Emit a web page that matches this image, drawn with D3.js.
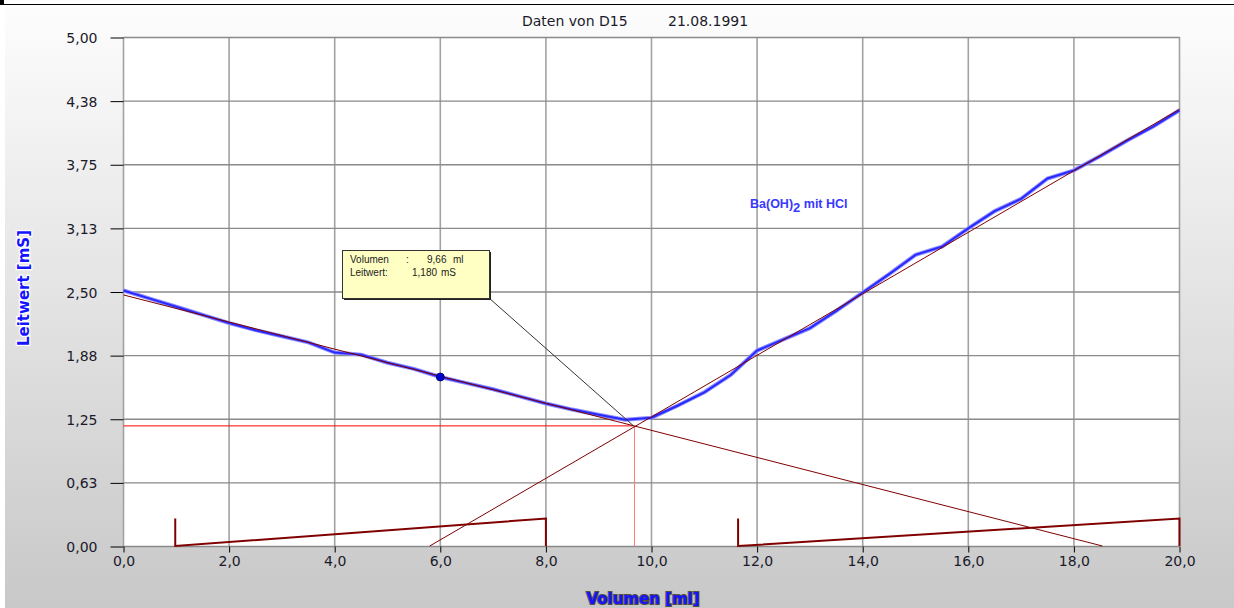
<!DOCTYPE html>
<html>
<head>
<meta charset="utf-8">
<script src="https://cdn.jsdelivr.net/npm/d3@7"></script>
<style>
  body { margin: 0; background: #fff; }
  svg { display: block; }
  .tick text { font-family: "DejaVu Sans", sans-serif; font-size: 14px; fill: #1a1a2a; }
</style>
</head>
<body>
<div id="chart"></div>
<script>
// ===== Data =====
let volumen = [0, 0.5, 1, 1.5, 2, 2.5, 3, 3.5, 4, 4.5, 5, 5.5, 6, 6.5, 7, 7.5, 8, 8.5, 9, 9.5,
               10, 10.5, 11, 11.5, 12, 12.5, 13, 13.5, 14, 14.5, 15, 15.5, 16, 16.5, 17, 17.5, 18, 18.5, 19, 19.5, 20];
let leitwert = [2.51, 2.43, 2.35, 2.27, 2.19, 2.12, 2.06, 2.00, 1.90, 1.88, 1.80, 1.74, 1.66, 1.60, 1.54, 1.47, 1.40, 1.34, 1.29, 1.24,
                1.26, 1.38, 1.51, 1.68, 1.92, 2.03, 2.14, 2.31, 2.49, 2.67, 2.86, 2.94, 3.12, 3.29, 3.41, 3.61, 3.69, 3.83, 3.98, 4.12, 4.28];

let fitDown = [[0, 2.466], [18.54, 0]];   // regression before equivalence point
let fitUp = [[5.80, 0], [20, 4.29]];      // regression after equivalence point
let equiv = {vol: 9.66, lw: 1.18};
let marker = {vol: 6.0, lw: 1.66};
let ranges = [[0.98, 8.0], [11.64, 20.0]];
let rangeHeight = 0.27;

let yTicks = [0, 0.625, 1.25, 1.875, 2.5, 3.125, 3.75, 4.375, 5];
let yTickLabels = ["0,00", "0,63", "1,25", "1,88", "2,50", "3,13", "3,75", "4,38", "5,00"];
let xTicks = [0, 2, 4, 6, 8, 10, 12, 14, 16, 18, 20];

let W = 1234, H = 608;

let svg = d3.select("#chart").append("svg")
    .attr("width", W)
    .attr("height", H);

// ===== Background =====
let grad = svg.append("defs").append("linearGradient")
    .attr("id", "bg")
    .attr("x1", 0).attr("y1", 0).attr("x2", 0).attr("y2", 1);
grad.append("stop").attr("offset", "0%").attr("stop-color", "#fdfdfd");
grad.append("stop").attr("offset", "100%").attr("stop-color", "#c8c8c8");

svg.append("rect")
    .attr("x", 5).attr("y", 5)
    .attr("width", W - 5).attr("height", H - 5)
    .attr("fill", "url(#bg)");

svg.append("line")
    .attr("x1", 0).attr("x2", W)
    .attr("y1", 4.5).attr("y2", 4.5)
    .attr("stroke", "#000").attr("stroke-width", 1.2);
svg.append("rect")
    .attr("x", 0).attr("y", 0).attr("width", 4).attr("height", 5)
    .attr("fill", "#000");

// ===== Scales =====
let x = d3.scaleLinear().domain([0, 20]).range([123.5, 1179.5]),
    y = d3.scaleLinear().domain([0, 5]).range([546, 37]);

svg.append("rect")
    .attr("x", x(0)).attr("y", y(5))
    .attr("width", x(20) - x(0)).attr("height", y(0) - y(5))
    .attr("fill", "#fff");

// ===== Grid =====
svg.append("g").selectAll("line")
    .data(xTicks)
  .enter().append("line")
    .attr("x1", d => x(d)).attr("x2", d => x(d))
    .attr("y1", y(0)).attr("y2", y(5))
    .attr("stroke", "#a2a2a2").attr("stroke-width", 1.6);

svg.append("g").selectAll("line")
    .data(yTicks)
  .enter().append("line")
    .attr("x1", x(0)).attr("x2", x(20))
    .attr("y1", d => y(d) + 0.5).attr("y2", d => y(d) + 0.5)
    .attr("stroke", "#8a8a8a").attr("stroke-width", 1.4);

// ===== Axes =====
let yAxis = d3.axisLeft(y)
    .tickValues(yTicks)
    .tickFormat((d, i) => yTickLabels[i])
    .tickSize(13)
    .tickPadding(13);

let xAxis = d3.axisBottom(x)
    .tickValues(xTicks)
    .tickFormat(d => d3.format(".1f")(d).replace(".", ","))
    .tickSize(6)
    .tickPadding(4);

let gy = svg.append("g")
    .attr("transform", "translate(" + x(0) + ",0.5)")
    .call(yAxis);
let gx = svg.append("g")
    .attr("transform", "translate(0," + (y(0) + 0.5) + ")")
    .call(xAxis);

[gx, gy].forEach(g => {
  g.select(".domain").remove();
  g.selectAll(".tick line").attr("stroke", "#000");
});
gy.selectAll(".tick text").attr("dy", "0.36em");

// ===== Titles =====
svg.append("text")
    .attr("x", 522).attr("y", 26)
    .attr("font-family", "DejaVu Sans, sans-serif")
    .attr("font-size", 14)
    .attr("fill", "#1a1a2a")
    .text("Daten von D15");
svg.append("text")
    .attr("x", 668).attr("y", 26)
    .attr("font-family", "DejaVu Sans, sans-serif")
    .attr("font-size", 14)
    .attr("fill", "#1a1a2a")
    .text("21.08.1991");

svg.append("text")
    .attr("transform", "translate(29,288) rotate(-90)")
    .attr("text-anchor", "middle")
    .attr("font-family", "DejaVu Sans, sans-serif")
    .attr("font-weight", "bold")
    .attr("font-size", 15)
    .attr("fill", "#1414ff")
    .attr("stroke", "#fff")
    .attr("stroke-width", 2.5)
    .attr("paint-order", "stroke")
    .text("Leitwert [mS]");

svg.append("text")
    .attr("x", 643).attr("y", 604)
    .attr("text-anchor", "middle")
    .attr("font-family", "DejaVu Sans, sans-serif")
    .attr("font-weight", "bold")
    .attr("font-size", 15)
    .attr("fill", "#1414ff")
    .attr("stroke", "#5a5040")
    .attr("stroke-width", 2)
    .attr("paint-order", "stroke")
    .text("Volumen [ml]");

// ===== Range brackets =====
let ranG = svg.append("g")
    .attr("fill", "none")
    .attr("stroke", "#800000")
    .attr("stroke-width", 2);

ranG.selectAll("path")
    .data(ranges)
  .enter().append("path")
    .attr("d", d => d3.line()([
      [x(d[0]), y(rangeHeight)],
      [x(d[0]), y(0)],
      [x(d[1]), y(rangeHeight)],
      [x(d[1]), y(0)]
    ]));

// ===== Equivalence crosshair =====
svg.append("line")
    .attr("x1", x(0)).attr("x2", x(equiv.vol))
    .attr("y1", y(equiv.lw)).attr("y2", y(equiv.lw))
    .attr("stroke", "#ff0000").attr("stroke-width", 1);
svg.append("line")
    .attr("x1", Math.round(x(equiv.vol)) + 0.5).attr("x2", Math.round(x(equiv.vol)) + 0.5)
    .attr("y1", y(equiv.lw)).attr("y2", y(0))
    .attr("stroke", "#ff7a7a").attr("stroke-width", 1);

// ===== Measured curve =====
let line = d3.line()
    .x((d, i) => x(volumen[i]))
    .y(d => y(d));

svg.append("path")
    .datum(leitwert)
    .attr("d", line)
    .attr("fill", "none")
    .attr("stroke", "#8c8cff")
    .attr("stroke-width", 4);
svg.append("path")
    .datum(leitwert)
    .attr("d", line)
    .attr("fill", "none")
    .attr("stroke", "#2828ff")
    .attr("stroke-width", 2);

// ===== Regression lines =====
svg.selectAll(".fit")
    .data([fitDown, fitUp])
  .enter().append("path")
    .attr("class", "fit")
    .attr("d", d => d3.line()(d.map(p => [x(p[0]), y(p[1])])))
    .attr("stroke", "#800000")
    .attr("stroke-width", 1)
    .attr("fill", "none");

svg.append("circle")
    .attr("cx", x(marker.vol)).attr("cy", y(marker.lw))
    .attr("r", 4)
    .attr("fill", "#0000cc")
    .attr("stroke", "#000066")
    .attr("stroke-width", 0.8);

// ===== Info box =====
let box = {x: 342, y: 250, w: 147, h: 48};

svg.append("line")
    .attr("x1", box.x + box.w).attr("y1", box.y + box.h)
    .attr("x2", x(equiv.vol)).attr("y2", y(equiv.lw))
    .attr("stroke", "#333").attr("stroke-width", 1);

svg.append("rect")
    .attr("x", box.x + 2).attr("y", box.y + 2)
    .attr("width", box.w).attr("height", box.h)
    .attr("fill", "#222");
svg.append("rect")
    .attr("x", box.x + 0.5).attr("y", box.y + 0.5)
    .attr("width", box.w).attr("height", box.h)
    .attr("fill", "#ffffc4")
    .attr("stroke", "#333").attr("stroke-width", 1);

let info = svg.append("g")
    .attr("font-family", "Liberation Sans, Arial, sans-serif")
    .attr("font-size", 10)
    .attr("fill", "#222");
info.append("text").attr("x", 350).attr("y", 263).text("Volumen");
info.append("text").attr("x", 406).attr("y", 263).text(":");
info.append("text").attr("x", 427).attr("y", 263).text(d3.format(".2f")(equiv.vol).replace(".", ","));
info.append("text").attr("x", 453).attr("y", 263).text("ml");
info.append("text").attr("x", 350).attr("y", 276).text("Leitwert:");
info.append("text").attr("x", 412).attr("y", 276).text(d3.format(".3f")(equiv.lw).replace(".", ","));
info.append("text").attr("x", 441).attr("y", 276).text("mS");

// ===== Legend =====
let leg = svg.append("text")
    .attr("x", 750).attr("y", 208)
    .attr("font-family", "Liberation Sans, Arial, sans-serif")
    .attr("font-weight", "bold")
    .attr("font-size", 12.5)
    .attr("fill", "#3838ff");
leg.append("tspan").text("Ba(OH)");
leg.append("tspan").attr("dy", 4).attr("font-size", 13).text("2");
leg.append("tspan").attr("dy", -4).text(" mit HCl");
</script>
</body>
</html>
